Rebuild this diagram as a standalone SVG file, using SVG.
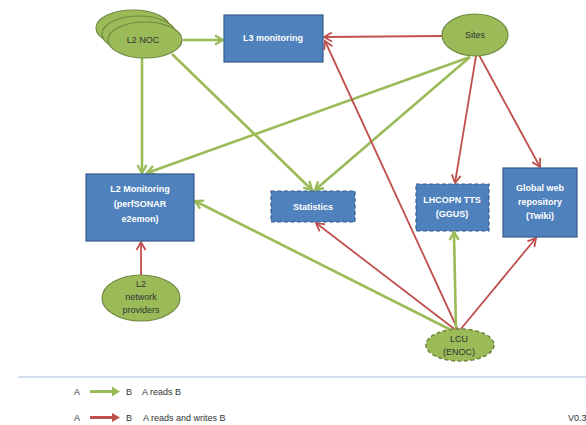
<svg xmlns="http://www.w3.org/2000/svg" width="586" height="425" viewBox="0 0 586 425">
<style>
.ell{fill:#9bbb59;stroke:#71893f;stroke-width:1.2}
.dash{stroke-dasharray:4 2.5;stroke-width:1.6}
.box{fill:#4f81bd;stroke:#385d8a;stroke-width:1.2}
.bt{font-family:"Liberation Sans",Arial,sans-serif;font-size:9px;font-weight:bold;fill:#fff;text-anchor:middle}
.et{font-family:"Liberation Sans",Arial,sans-serif;font-size:9px;fill:#333;text-anchor:middle}
.lt{font-family:"Liberation Sans",Arial,sans-serif;font-size:9px;fill:#333}
.g{stroke:#9bbb59;stroke-width:2.6;fill:none;marker-end:url(#ga)}
.r{stroke:#c0504d;stroke-width:1.8;fill:none;marker-end:url(#ra)}
</style>
<defs>
<marker id="ga" markerUnits="userSpaceOnUse" markerWidth="12" markerHeight="12" refX="9" refY="5" orient="auto" overflow="visible">
<path d="M1,0.5 L9,5 L1,9.5" fill="none" stroke="#9bbb59" stroke-width="2.4" stroke-linejoin="miter"/>
</marker>
<marker id="ra" markerUnits="userSpaceOnUse" markerWidth="12" markerHeight="12" refX="9" refY="5" orient="auto" overflow="visible">
<path d="M1,0.5 L9,5 L1,9.5" fill="none" stroke="#c0504d" stroke-width="1.8"/>
</marker>
</defs>
<rect width="586" height="425" fill="#fff"/>
<g id="connectors">
<line class="g" x1="183" y1="40" x2="223" y2="40"/>
<line class="g" x1="142" y1="58" x2="142" y2="173"/>
<line class="g" x1="172" y1="54" x2="312" y2="190"/>
<line class="g" x1="470" y1="57" x2="147" y2="173"/>
<line class="g" x1="470" y1="57" x2="315" y2="190"/>
<line class="r" x1="442" y1="36" x2="324" y2="37"/>
<line class="r" x1="476" y1="56" x2="455" y2="183"/>
<line class="r" x1="479" y1="55" x2="540" y2="167"/>
<line class="r" x1="458" y1="330" x2="325" y2="41"/>
<line class="r" x1="457" y1="331" x2="316" y2="223"/>
<line class="g" x1="456" y1="331" x2="454" y2="232"/>
<line class="r" x1="460" y1="330" x2="536" y2="238"/>
<line class="g" x1="455" y1="332" x2="195" y2="201"/>
<line class="r" x1="141" y1="275" x2="141" y2="242"/>
</g>
<g id="l2noc">
<ellipse class="ell" cx="133" cy="28" rx="37" ry="18"/>
<ellipse class="ell" cx="139" cy="34" rx="37" ry="18"/>
<ellipse class="ell" cx="145" cy="40" rx="37" ry="18"/>
<text class="et" x="143" y="43">L2 NOC</text>
</g>
<g id="l3mon">
<rect class="box" x="224" y="15" width="99" height="47"/>
<text class="bt" x="273" y="41">L3 monitoring</text>
</g>
<g id="sites">
<ellipse class="ell" cx="475" cy="35" rx="33" ry="21"/>
<text class="et" x="475" y="38">Sites</text>
</g>
<g id="l2mon">
<rect class="box" x="86" y="174" width="108" height="67"/>
<text class="bt" x="140" y="192">L2 Monitoring</text>
<text class="bt" x="140" y="207">(perfSONAR</text>
<text class="bt" x="140" y="222">e2emon)</text>
</g>
<g id="stats">
<rect class="box dash" x="271" y="191" width="84" height="31"/>
<text class="bt" x="313" y="210">Statistics</text>
</g>
<g id="tts">
<rect class="box dash" x="416" y="184" width="73" height="47"/>
<text class="bt" x="452" y="203">LHCOPN TTS</text>
<text class="bt" x="452" y="217">(GGUS)</text>
</g>
<g id="twiki">
<rect class="box" x="503" y="168" width="74" height="69"/>
<text class="bt" x="540" y="191">Global web</text>
<text class="bt" x="540" y="205">repository</text>
<text class="bt" x="540" y="219">(Twiki)</text>
</g>
<g id="l2np">
<ellipse class="ell" cx="141" cy="298" rx="39" ry="23"/>
<text class="et" x="141" y="287">L2</text>
<text class="et" x="141" y="300">network</text>
<text class="et" x="141" y="313">providers</text>
</g>
<g id="lcu">
<ellipse class="ell dash" cx="460" cy="345" rx="34" ry="16"/>
<text class="et" x="459" y="342">LCU</text>
<text class="et" x="459" y="355">(ENOC)</text>
</g>
<g id="legend">
<line x1="18" y1="377" x2="586" y2="377" stroke="#a9bcd6" stroke-width="1.2"/>
<text class="lt" x="74" y="395">A</text>
<path d="M90,390 L112,390 L112,386.5 L120,391.5 L112,396.5 L112,393 L90,393 Z" fill="#9bbb59"/>
<text class="lt" x="126" y="395">B</text>
<text class="lt" x="142" y="395">A reads B</text>
<text class="lt" x="74" y="421">A</text>
<path d="M90,416 L112,416 L112,413 L120,417.5 L112,422 L112,419 L90,419 Z" fill="#c0504d"/>
<text class="lt" x="126" y="421">B</text>
<text class="lt" x="143" y="421">A reads and writes B</text>
<text class="lt" x="568" y="421" font-size="8">V0.3</text>
</g>
</svg>
